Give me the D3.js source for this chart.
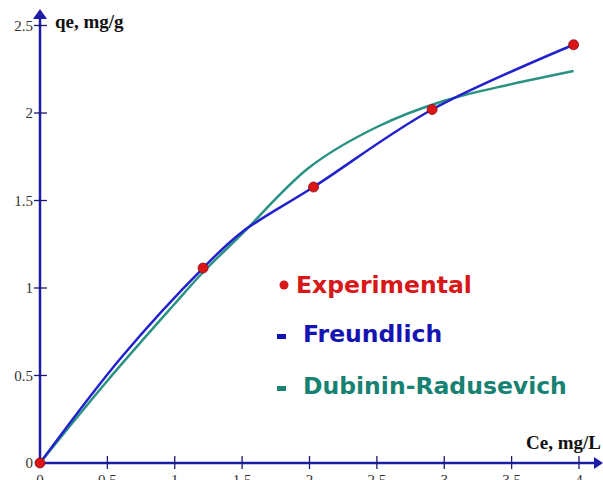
<!DOCTYPE html>
<html>
<head>
<meta charset="utf-8">
<script src="https://cdn.jsdelivr.net/npm/d3@7"></script>
<style>
  body { margin: 0; background: #fff; }
  svg { display: block; }
  .tick-label { font-family: "Liberation Serif", "Times New Roman", serif; font-size: 15px; fill: #333; }
  .axis-title { font-family: "Liberation Serif", "Times New Roman", serif; font-size: 19px; font-weight: bold; fill: #111; }
  .legend { font-family: "DejaVu Sans", sans-serif; font-size: 23.5px; font-weight: bold; }
</style>
</head>
<body>
<script>
// Data
var expCe = [0, 1.21, 2.03, 2.91, 3.96],
    expQe = [0, 1.114, 1.577, 2.02, 2.39];

var freCe = [0, 0.6, 1.21, 1.5, 2.03, 2.91, 3.96],
    freQe = [0, 0.6, 1.114, 1.32, 1.577, 2.02, 2.39];

var drCe = [0, 0.5, 1.0, 1.21, 1.5, 2.0, 2.5, 3.0, 3.5, 3.96],
    drQe = [0, 0.47, 0.91, 1.09, 1.31, 1.69, 1.92, 2.07, 2.165, 2.24];

var xTicks = [0, 0.5, 1, 1.5, 2, 2.5, 3, 3.5, 4],
    yTicks = [0, 0.5, 1, 1.5, 2, 2.5];

var legendItems = ["Experimental", "Freundlich", "Dubinin-Radusevich"];

// Size and scales
var width = 603, height = 480;
var axisColor = "#1c1ca6",
    blue = "#2222cc",
    teal = "#2a9282",
    red = "#dd1414";

var svg = d3.select("body").append("svg")
    .attr("width", width)
    .attr("height", height);

var x = d3.scaleLinear().domain([0, 4]).range([40, 579]);
var y = d3.scaleLinear().domain([0, 2.5]).range([463, 25.5]);

// Axes (lines with crossing ticks)
svg.append("line")
    .attr("x1", x(0)).attr("y1", y(0))
    .attr("x2", 597).attr("y2", y(0))
    .attr("stroke", axisColor).attr("stroke-width", 2.5);
svg.append("path")
    .attr("d", "M603," + y(0) + " L594," + (y(0) - 6) + " L594," + (y(0) + 6) + "Z")
    .attr("fill", axisColor);

svg.append("line")
    .attr("x1", x(0)).attr("y1", y(0))
    .attr("x2", x(0)).attr("y2", 18)
    .attr("stroke", axisColor).attr("stroke-width", 2.5);
svg.append("path")
    .attr("d", "M" + x(0) + ",9 L" + (x(0) - 7) + ",19 L" + (x(0) + 7) + ",19Z")
    .attr("fill", axisColor);

svg.selectAll(".xtick")
    .data(xTicks.slice(1))
    .enter().append("line")
    .attr("class", "xtick")
    .attr("x1", function(d) { return x(d); })
    .attr("x2", function(d) { return x(d); })
    .attr("y1", y(0) - 7)
    .attr("y2", y(0) + 6)
    .attr("stroke", "#1a1a70").attr("stroke-width", 1.3);

svg.selectAll(".ytick")
    .data(yTicks.slice(1))
    .enter().append("line")
    .attr("class", "ytick")
    .attr("x1", x(0) - 6)
    .attr("x2", x(0) + 7)
    .attr("y1", function(d) { return y(d); })
    .attr("y2", function(d) { return y(d); })
    .attr("stroke", "#1a1a70").attr("stroke-width", 1.3);

// x tick labels sit at the bottom edge, partly cut off as in the original
svg.selectAll(".xlab")
    .data(xTicks)
    .enter().append("text")
    .attr("class", "tick-label")
    .attr("x", function(d) { return x(d); })
    .attr("y", 485)
    .attr("text-anchor", "middle")
    .text(function(d) { return d; });

svg.selectAll(".ylab")
    .data(yTicks)
    .enter().append("text")
    .attr("class", "tick-label")
    .attr("x", 33)
    .attr("y", function(d) { return y(d) + 5; })
    .attr("text-anchor", "end")
    .text(function(d) { return d; });

svg.append("text")
    .attr("class", "axis-title")
    .attr("x", 55).attr("y", 28)
    .text("qe, mg/g");

svg.append("text")
    .attr("class", "axis-title")
    .attr("x", 601).attr("y", 449)
    .attr("text-anchor", "end")
    .text("Ce, mg/L");

// Curves
var line = d3.line()
    .x(function(d) { return x(d[0]); })
    .y(function(d) { return y(d[1]); })
    .curve(d3.curveCatmullRom);

svg.append("path")
    .datum(d3.zip(drCe, drQe))
    .attr("d", line)
    .attr("fill", "none")
    .attr("stroke", teal)
    .attr("stroke-width", 2.5);

svg.append("path")
    .datum(d3.zip(freCe, freQe))
    .attr("d", line)
    .attr("fill", "none")
    .attr("stroke", blue)
    .attr("stroke-width", 2.5);

svg.selectAll(".dot")
    .data(d3.zip(expCe, expQe))
    .enter().append("circle")
    .attr("class", "dot")
    .attr("cx", function(d) { return x(d[0]); })
    .attr("cy", function(d) { return y(d[1]); })
    .attr("r", 5)
    .attr("fill", red)
    .attr("stroke", "#7a1020")
    .attr("stroke-width", 0.8);

// Legend
var legendY = [293, 342, 394],
    legendColor = ["#d81818", "#1414b4", "#178272"];

svg.append("circle")
    .attr("cx", 284).attr("cy", 285).attr("r", 4.5)
    .attr("fill", legendColor[0]);

svg.selectAll(".legdash")
    .data([1, 2])
    .enter().append("rect")
    .attr("x", 277)
    .attr("y", function(i) { return legendY[i] - 8; })
    .attr("width", 9).attr("height", 5)
    .attr("fill", function(i) { return legendColor[i]; });

svg.selectAll(".legend")
    .data(legendItems)
    .enter().append("text")
    .attr("class", "legend")
    .attr("x", function(d, i) { return i === 0 ? 296 : 303; })
    .attr("y", function(d, i) { return legendY[i]; })
    .attr("fill", function(d, i) { return legendColor[i]; })
    .text(function(d) { return d; });
</script>
</body>
</html>
